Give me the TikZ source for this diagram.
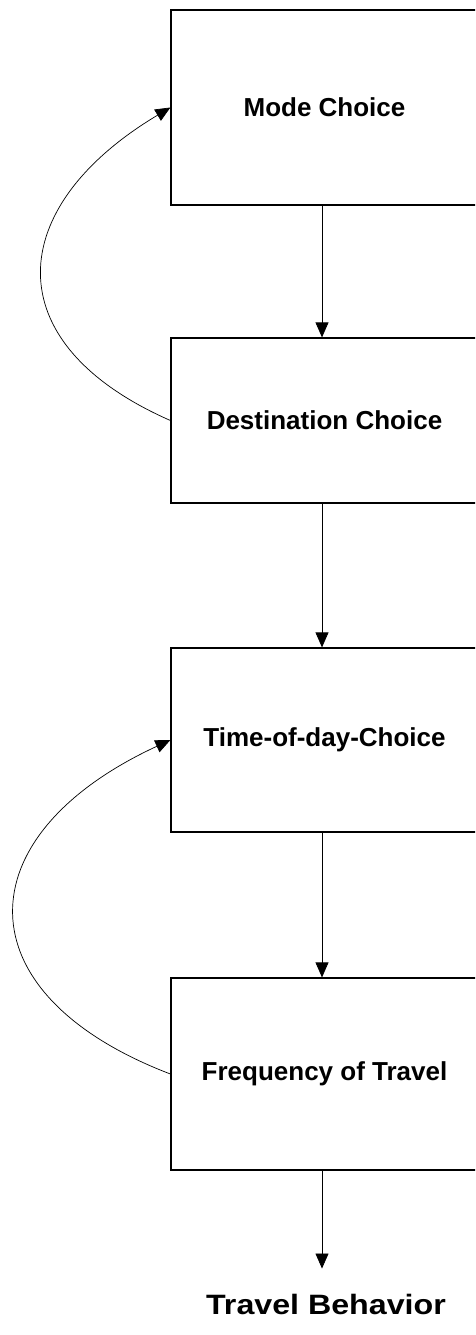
\documentclass[tikz,border=0pt]{standalone}
\usepackage{fontspec}
\setmainfont{Liberation Sans}
\usetikzlibrary{arrows.meta}
\begin{document}
\begin{tikzpicture}[x=1pt,y=-1pt,
  box/.style={draw, line width=1.2pt, minimum width=307pt, inner sep=0pt,
    font=\bfseries\fontsize{26}{30}\selectfont},
  conn/.style={line width=0.7pt, -{Triangle[length=15pt,width=13pt]}},
  outlabel/.style={inner sep=0pt, anchor=base, font=\bfseries\fontsize{28}{32}\selectfont}
]
\useasboundingbox (0,0) rectangle (475,1335);
\clip (0,0) rectangle (475,1335);
\node[box, minimum height=195pt] (b1) at (324.5,107.5) {Mode Choice};
\node[box, minimum height=165pt] (b2) at (324.5,420.5) {Destination Choice};
\node[box, minimum height=184pt] (b3) at (324.5,740) {Time-of-day-Choice};
\node[box, minimum height=192pt] (b4) at (324.5,1074) {Frequency of Travel};
\node[outlabel] (tb) at (326,1314) {\scalebox{1.15}[1]{Travel Behavior}};
\coordinate (ax) at (322,0);
\draw[conn] (b1.south -| ax) -- (b2.north -| ax);
\draw[conn] (b2.south -| ax) -- (b3.north -| ax);
\draw[conn] (b3.south -| ax) -- (b4.north -| ax);
\draw[conn, shorten >=25pt] (b4.south -| ax) -- (tb.north -| ax);
\draw[conn] (b2.west) .. controls (-6.6,342.7) and (5,206.4) .. (b1.west);
\draw[conn] (b4.west) .. controls (-40,993.5) and (-35.6,835.3) .. (b3.west);
\end{tikzpicture}
\end{document}
